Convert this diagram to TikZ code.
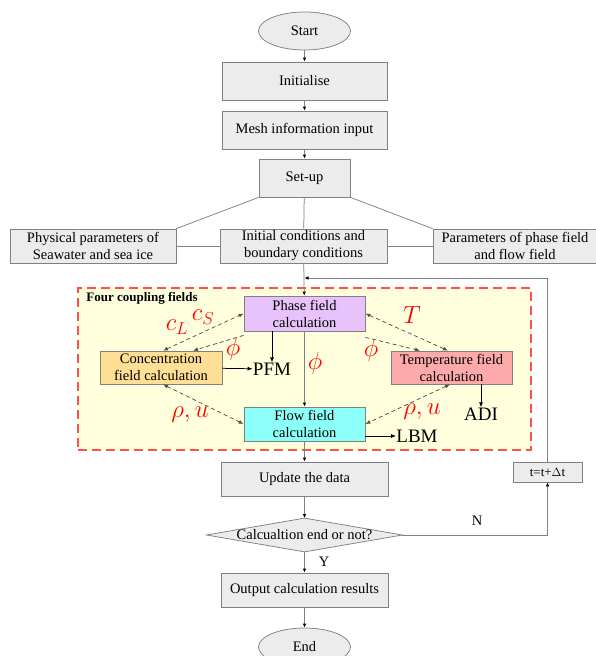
\documentclass[tikz,border=0pt]{standalone}
\usepackage{fontspec}
\setmainfont{Liberation Serif}
\usetikzlibrary{arrows.meta,shapes.geometric}

\definecolor{boxgray}{RGB}{236,236,236}
\definecolor{linegray}{RGB}{128,128,128}
\definecolor{phasecol}{RGB}{232,194,250}
\definecolor{conccol}{RGB}{255,222,150}
\definecolor{tempcol}{RGB}{255,170,170}
\definecolor{flowcol}{RGB}{140,255,248}
\definecolor{fieldbg}{RGB}{255,255,222}
\definecolor{fieldred}{RGB}{255,80,80}
\definecolor{dashgray}{RGB}{80,80,80}

\tikzset{every picture/.style={line width=0.75pt},
  procbox/.style={draw=linegray, fill=boxgray, inner sep=0pt, align=center,
    minimum width=165, minimum height=38, font=\fontsize{14.5}{17}\selectfont},
  termbox/.style={procbox, ellipse, minimum width=92, minimum height=38},
  fieldbox/.style={procbox, minimum width=121, minimum height=34},
  methodtext/.style={inner sep=0pt, font=\fontsize{19}{19}\selectfont},
  redlabel/.style={inner sep=0pt, text=red, font=\fontsize{23}{23}\selectfont},
  flowarrow/.style={draw=linegray, -{Latex[length=4pt,width=3.5pt,color=black]}},
  link/.style={draw=linegray},
  blackarrow/.style={draw=black, -{Latex[length=5pt,width=4pt]}},
  couplearrow/.style={draw=dashgray, dash pattern=on 4pt off 3pt, -{Latex[length=5pt,width=4pt]}},
  coupleboth/.style={couplearrow, {Latex[length=5pt,width=4pt]}-{Latex[length=5pt,width=4pt]}}
}

\begin{document}
\begin{tikzpicture}[x=1pt,y=1pt,yscale=-1,xscale=1]
    \useasboundingbox (0,0) rectangle (595,656);

    % Coupling region
    \node (frame) at (304.5,369) [draw=fieldred, fill=fieldbg, line width=1.5pt,
      dash pattern=on 9pt off 5pt, minimum width=453, minimum height=162] {};
    \node (frametitle) at (86,298) [anchor=west, inner sep=0pt,
      font=\fontsize{13}{13}\selectfont\bfseries] {Four coupling fields};

    % Main column
    \node (start) at (304.5,31) [termbox] {Start};
    \node (init) at (304.5,81) [procbox] {Initialise};
    \node (mesh) at (304.5,130) [procbox] {Mesh information input};
    \node (setup) at (304.5,178) [procbox, minimum width=91] {Set-up};

    % Parameter row
    \node (phys) at (93,246) [procbox, minimum width=166, minimum height=34] {Physical parameters of\\Seawater and sea ice};
    \node (initc) at (303.5,246) [procbox, minimum width=167, minimum height=34] {Initial conditions and\\boundary conditions};
    \node (param) at (515,246) [procbox, minimum width=164, minimum height=34] {Parameters of phase field\\and flow field};

    % Four fields
    \node (phase) at (304.5,313.5) [fieldbox, fill=phasecol, minimum height=35] {Phase field\\calculation};
    \node (conc) at (161,367.5) [fieldbox, fill=conccol, minimum width=122, minimum height=33] {Concentration\\field calculation};
    \node (temp) at (451.5,367.5) [fieldbox, fill=tempcol, minimum height=33] {Temperature field\\calculation};
    \node (flow) at (304.5,424) [fieldbox, fill=flowcol] {Flow field\\calculation};
    \node (pfm) at (272,369) [methodtext] {PFM};
    \node (adi) at (481,414) [methodtext] {ADI};
    \node (lbm) at (417,436) [methodtext] {LBM};

    % Lower column
    \node (update) at (304.5,479) [procbox, minimum width=167, minimum height=34] {Update the data};
    \node (check) at (304.5,535) [inner sep=0pt, minimum width=195, minimum height=33,
      font=\fontsize{14.5}{17}\selectfont] {};
    \draw[draw=linegray, fill=boxgray] (check.west) -- (check.north) -- (check.east) -- (check.south) -- cycle;
    \node (checktext) at (check) [inner sep=0pt, font=\fontsize{14.5}{17}\selectfont] {Calcualtion end or not?};
    \node (tstep) at (547.5,472) [procbox, minimum width=69, minimum height=20,
      font=\fontsize{13}{13}\selectfont] {t=t+$\Delta$t};
    \node (output) at (304.5,590) [procbox, minimum width=167, minimum height=34] {Output calculation results};
    \node (end) at (304.5,647) [termbox] {End};

    % Connectors
    \draw[flowarrow] (start) -- (init);
    \draw[flowarrow] (init) -- (mesh);
    \draw[flowarrow] (mesh) -- (setup);
    \draw[link] (setup) -- (initc);
    \draw[link] (setup.south west) -- (phys.north east);
    \draw[link] (setup.south east) -- (param.north west);
    \draw[link] (phys) -- (initc);
    \draw[link] (initc) -- (param);
    \draw[flowarrow] (initc) -- (phase);
    \coordinate (feed) at (304.5,278);
    \draw[flowarrow] (tstep.north) |- (feed);
    \draw[flowarrow] (phase) -- (flow);
    \draw[flowarrow] (flow) -- (update);
    \draw[flowarrow] (update) -- (check.north);
    \draw[flowarrow] (check.south) -- (output);
    \draw[flowarrow] (output) -- (end);
    \draw[flowarrow] (check.east) -| (tstep.south);
    \node (nlabel) at (477,521) [inner sep=0pt, font=\fontsize{14.5}{17}\selectfont] {N};
    \node (ylabel) at (324,562) [inner sep=0pt, font=\fontsize{14.5}{17}\selectfont] {Y};

    % Methods
    \draw[blackarrow] (pfm.north |- phase.south) -- (pfm);
    \draw[blackarrow] (conc) -- (pfm);
    \draw[blackarrow] (adi.north |- temp.south) -- (adi);
    \draw[blackarrow] (lbm.west -| flow.east) -- (lbm);

    % Coupling arrows
    \draw[coupleboth] ([xshift=2pt]conc.north) -- (phase.west);
    \draw[couplearrow] ([yshift=4pt]phase.south west) -- ([xshift=32pt]conc.north);
    \draw[coupleboth] (phase.east) -- ([xshift=-3.5pt]temp.north);
    \draw[couplearrow] ([yshift=6pt]phase.south east) -- ([xshift=-31.5pt]temp.north);
    \draw[coupleboth] ([xshift=2pt]conc.south) -- (flow.west);
    \draw[coupleboth] ([xshift=-1.5pt]temp.south) -- (flow.east);

    % Coupling labels
    \node (lblcl) at (177,327) [redlabel] {$c_L$};
    \node (lblcs) at (203,317) [redlabel] {$c_S$};
    \node (lblphic) at (233,349) [redlabel] {$\phi$};
    \node (lblphif) at (315,363) [redlabel] {$\phi$};
    \node (lblt) at (412,315) [redlabel] {$T$};
    \node (lblphit) at (371,350) [redlabel] {$\phi$};
    \node (lblrhoc) at (190,415) [redlabel] {$\rho, u$};
    \node (lblrhot) at (422,412) [redlabel] {$\rho, u$};
\end{tikzpicture}
\end{document}
